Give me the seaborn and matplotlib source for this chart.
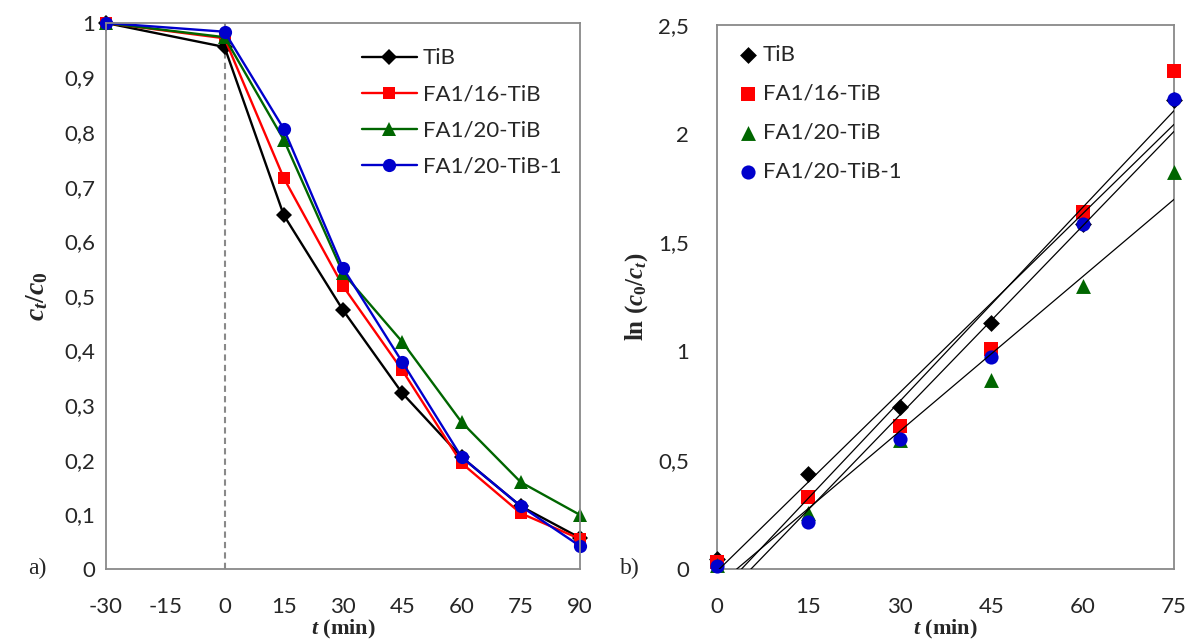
import numpy as np
import pandas as pd
import matplotlib
matplotlib.use("Agg")
import matplotlib.pyplot as plt
from matplotlib.ticker import FuncFormatter, MultipleLocator
import seaborn as sns

# ── data ──
samples = ["TiB", "FA1/16-TiB", "FA1/20-TiB", "FA1/20-TiB-1"]

# a) c_t/c_0 vs time (dark adsorption from -30 min, light on at 0)
t_full = [-30, 0, 15, 30, 45, 60, 75, 90]
ratio_tib = [1, 0.956, 0.648, 0.474, 0.322, 0.205, 0.115, 0.057]
ratio_fa16 = [1, 0.972, 0.716, 0.518, 0.364, 0.194, 0.102, 0.055]
ratio_fa20 = [1, 0.974, 0.786, 0.542, 0.416, 0.269, 0.159, 0.099]
ratio_fa20_1 = [1, 0.984, 0.806, 0.551, 0.379, 0.205, 0.115, 0.042]

# b) ln(c_0/c_t) vs time
t_kin = [0, 15, 30, 45, 60, 75]
ln_tib = [0.045, 0.437, 0.745, 1.13, 1.585, 2.155]
ln_fa16 = [0.03, 0.331, 0.657, 1.011, 1.64, 2.29]
ln_fa20 = [0.02, 0.257, 0.593, 0.869, 1.30, 1.825]
ln_fa20_1 = [0.015, 0.216, 0.597, 0.974, 1.585, 2.16]

ratios = [ratio_tib, ratio_fa16, ratio_fa20, ratio_fa20_1]
lns = [ln_tib, ln_fa16, ln_fa20, ln_fa20_1]

# ── style ──
sns.set_style("white")
plt.rcParams["font.family"] = ["Lato", "DejaVu Sans"]
plt.rcParams["axes.unicode_minus"] = False
plt.rcParams["mathtext.fontset"] = "custom"
plt.rcParams["mathtext.it"] = "Liberation Serif:italic:bold"
plt.rcParams["mathtext.bf"] = "Liberation Serif:bold"
plt.rcParams["mathtext.rm"] = "Liberation Serif:bold"

colors = ["black", "#FF0000", "#006600", "#0000CC"]
markers = ["D", "s", "^", "o"]
msizes = [8, 9, 10, 9.5]
SPINE = "#898989"
TICK_FS = 16


def comma_fmt(v, pos):
    if abs(v - round(v)) < 1e-9:
        return f"{int(round(v))}"
    return f"{v:.1f}".replace(".", ",")


def style_axes(ax):
    for sp in ax.spines.values():
        sp.set_color(SPINE)
        sp.set_linewidth(1.3)
    ax.tick_params(length=0, labelsize=TICK_FS)
    ax.xaxis.set_major_formatter(FuncFormatter(comma_fmt))
    ax.yaxis.set_major_formatter(FuncFormatter(comma_fmt))


fig = plt.figure(figsize=(11.89, 6.44), dpi=100)
ax1 = fig.add_axes([0.0892, 0.1165, 0.3986, 0.8478])
ax2 = fig.add_axes([0.603, 0.1165, 0.3844, 0.8447])

# ── a) ──
ax1.axvline(0, color=SPINE, linestyle=(0, (3, 2)), linewidth=1.5, zorder=1)
for name, vals, c, m, ms in zip(samples, ratios, colors, markers, msizes):
    sns.lineplot(x=t_full, y=vals, ax=ax1, color=c, marker=m, markersize=ms,
                 markeredgewidth=0, linewidth=1.7, label=name, clip_on=False)
ax1.set_xlim(-30, 90)
ax1.set_ylim(0, 1)
ax1.xaxis.set_major_locator(MultipleLocator(15))
ax1.yaxis.set_major_locator(MultipleLocator(0.1))
style_axes(ax1)
ax1.tick_params(axis="x", pad=20)
ax1.tick_params(axis="y", pad=8)
ax1.set_xlabel(r"$t$ (min)", fontfamily="Liberation Serif", fontweight="bold", fontsize=16, labelpad=1)
ax1.set_ylabel(r"$c_t/c_0$", fontsize=20, labelpad=10)
ax1.legend(loc="upper right", bbox_to_anchor=(1.003, 0.99), frameon=False, fontsize=TICK_FS,
           handlelength=2.5, handletextpad=0.25, labelspacing=0.72)

# ── b) ──
for name, vals, c, m, ms in zip(samples, lns, colors, markers, msizes):
    sns.scatterplot(x=t_kin, y=vals, ax=ax2, color=c, marker=m, s=ms ** 2 * 1.15,
                    linewidth=0, label=name, clip_on=False, zorder=3)
for vals in lns:
    sns.regplot(x=t_kin, y=vals, ax=ax2, scatter=False, ci=None, color="black",
                line_kws=dict(linewidth=0.9, zorder=4))
ax2.set_xlim(0, 75)
ax2.set_ylim(0, 2.5)
ax2.xaxis.set_major_locator(MultipleLocator(15))
ax2.yaxis.set_major_locator(MultipleLocator(0.5))
style_axes(ax2)
ax2.tick_params(axis="x", pad=20)
ax2.tick_params(axis="y", pad=20)
ax2.set_xlabel(r"$t$ (min)", fontfamily="Liberation Serif", fontweight="bold", fontsize=16, labelpad=1)
ax2.set_ylabel(r"ln ($c_0/c_t$)", fontfamily="Liberation Serif", fontweight="bold", fontsize=18, labelpad=6)
ax2.legend(loc="upper left", bbox_to_anchor=(0.0, 1.0), frameon=False, fontsize=TICK_FS,
           handlelength=1.0, handletextpad=0.15, labelspacing=0.85)

fig.text(0.024, 0.118, "a)", fontfamily="Liberation Serif", fontsize=17, va="center")
fig.text(0.521, 0.118, "b)", fontfamily="Liberation Serif", fontsize=17, va="center")

fig.savefig("out.png", dpi=100)
